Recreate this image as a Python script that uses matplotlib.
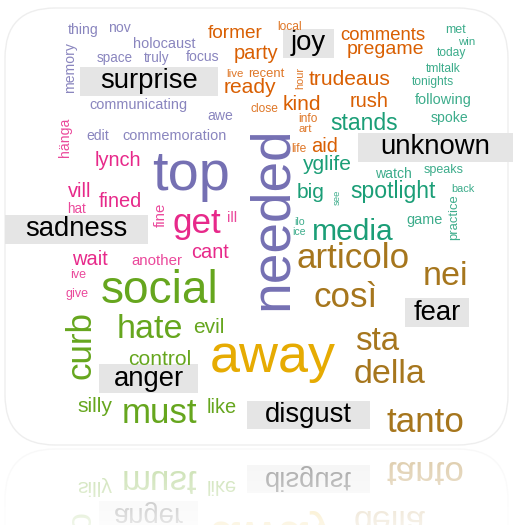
import numpy as np
import matplotlib
matplotlib.use('Agg')
import matplotlib.pyplot as plt
from matplotlib.patches import FancyBboxPatch, Rectangle

# emotion groups of the comparison cloud (Dark2 colours)
emotions = ['surprise', 'joy', 'unknown', 'sadness', 'fear', 'anger', 'disgust']
emotion_colors = ['#7570B3', '#D95F02', '#1B9E77', '#E7298A', '#A6761D', '#66A61E', '#E6AB02']

# words, their emotion and weight (rendered size in px)
words = ['thing', 'nov', 'holocaust', 'memory', 'space', 'truly', 'focus', 'communicating',
         'awe', 'edit', 'commemoration', 'top', 'needed',
         'former', 'party', 'live', 'recent', 'ready', 'close', 'local', 'hour', 'trudeaus',
         'kind', 'rush', 'comments', 'pregame', 'info', 'art', 'life', 'aid',
         'stands', 'met', 'win', 'today', 'tmltalk', 'tonights', 'following', 'spoke', 'watch',
         'speaks', 'yglife', 'big', 'see', 'spotlight', 'back', 'practice', 'game', 'ilo', 'ice',
         'media',
         'hänga', 'lynch', 'vill', 'fined', 'hat', 'fine', 'get', 'ill', 'wait', 'another',
         'cant', 'ive', 'give',
         'articolo', 'nei', 'così', 'sta', 'della', 'tanto',
         'social', 'curb', 'hate', 'evil', 'control', 'silly', 'must', 'like',
         'away']
word_emotion = (['surprise'] * 13 + ['joy'] * 17 + ['unknown'] * 20 + ['sadness'] * 13
                + ['fear'] * 6 + ['anger'] * 8 + ['disgust'] * 1)
word_weight = [14, 14, 14.5, 14, 13.5, 13.5, 14, 14.5, 14, 14, 14.5, 56, 55,
               19, 20, 11.5, 13, 21, 12, 12, 11, 21, 21, 20, 18.5, 19.5, 12, 11.5, 12, 20,
               23, 12.5, 11.5, 12, 12, 12, 14.5, 14, 14, 12.5, 21, 21, 9.5, 23, 11, 13, 14.5,
               10.5, 10.5, 30,
               14, 20, 20, 20, 13.5, 15, 35, 15, 20, 15, 20, 12.5, 12.5,
               35, 34, 35, 33, 34, 35,
               46, 35, 34, 21, 21, 21, 35, 20,
               54]

# layout of the cloud: baseline centre (px) and rotation
word_x = [83, 119, 164, 74.5, 115, 157, 203, 138, 220, 98, 175, 191, 287,
          235, 256, 235, 266, 250, 264, 290, 303, 350, 302, 369, 383, 385, 308, 305, 299, 325,
          364, 456, 467, 452, 443, 433, 443, 449, 393, 444, 327, 311, 340, 393, 463, 457, 425,
          300, 299, 353,
          69, 118, 80, 120, 77, 165, 197, 232, 90, 157, 210, 78, 77,
          353, 445, 346, 377, 390, 425,
          160, 90, 150, 209, 160, 95, 160, 222,
          273]
word_y = [34, 32, 48, 68, 62, 62, 61, 109, 120, 140, 140, 190, 218,
          38, 59, 77, 77, 93, 112, 30, 77.5, 85, 110, 107, 40, 54, 122, 132, 152, 152,
          130, 33, 45, 56, 72, 84.5, 104, 122, 178, 172.5, 170.5, 198.5, 197.5, 198, 192,
          217.5, 224, 225, 235, 240,
          137, 166, 197, 207, 213, 215, 233, 222, 265, 265, 258, 278, 297,
          268, 285, 307, 350, 383, 432,
          303, 345, 338, 333, 365, 412.5, 423, 413,
          372]
vertical_words = ['memory', 'needed', 'hour', 'see', 'practice', 'hänga', 'fine', 'curb']

# emotion label boxes (x0, x1, y0, y1 in px)
box_x0 = [80, 283, 358, 5, 405, 99, 247]
box_x1 = [218, 334, 513, 148, 469, 198, 370]
box_y0 = [67, 29, 133, 215, 298, 364, 401]
box_y1 = [96, 58, 162, 244, 327, 393, 429]

W, H = 513, 525
PX = 0.72  # px -> pt at dpi 100
MIRROR = 447

fig = plt.figure(figsize=(W / 100, H / 100), dpi=100)
ax = fig.add_axes([0, 0, 1, 1])
ax.set_xlim(0, W)
ax.set_ylim(H, 0)
ax.axis('off')

# card
card = FancyBboxPatch((5, 8), 503, MIRROR - 10, boxstyle='round,pad=0,rounding_size=50',
                      facecolor='white', edgecolor='#eeeeee', linewidth=1.0, zorder=0)
ax.add_patch(card)

color_of = dict(zip(emotions, emotion_colors))
for w, emo, s, x, y in zip(words, word_emotion, word_weight, word_x, word_y):
    rot = 90 if w in vertical_words else 0
    alpha = 0.85 if s < 16 else 1.0  # small words render softer in the original
    ax.text(x, y, w, color=color_of[emo], fontsize=s * PX, family='Liberation Sans',
            ha='center', va='baseline', rotation=rot, rotation_mode='anchor',
            alpha=alpha, zorder=2)

# label boxes
for lab, x0, x1, y0, y1 in zip(emotions, box_x0, box_x1, box_y0, box_y1):
    ax.add_patch(Rectangle((x0, y0), x1 - x0, y1 - y0, facecolor='#e5e5e5',
                           edgecolor='none', zorder=1))
    ax.text((x0 + x1) / 2, (y0 + y1) / 2, lab, color='black', fontsize=27.5 * PX,
            family='Liberation Sans', ha='center', va='center', zorder=3)

# reflection underneath the card
fig.canvas.draw()
img = np.asarray(fig.canvas.buffer_rgba())[:, :, :3].astype(float) / 255.0
n = H - MIRROR
src = img[MIRROR - n:MIRROR][::-1]
fade = np.linspace(0.40, 0.10, n)[:, None, None]
refl = 1 - fade * (1 - src)
ax.imshow(refl, extent=(0, W, H, MIRROR), interpolation='nearest', aspect='auto', zorder=4)
ax.set_xlim(0, W)
ax.set_ylim(H, 0)

fig.savefig('out.png', dpi=100)
plt.close(fig)
